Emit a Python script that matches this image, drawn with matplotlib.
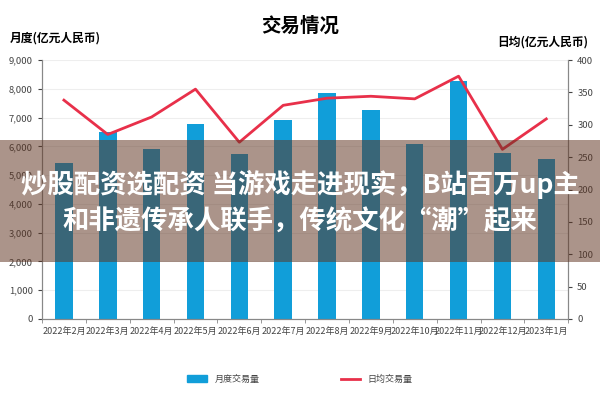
import matplotlib.pyplot as plt
from matplotlib.patches import Rectangle
from matplotlib.lines import Line2D
import numpy as np

plt.rcParams['font.family'] = ['Noto Sans CJK SC', 'DejaVu Sans']

# data
months = ['2022年2月', '2022年3月', '2022年4月', '2022年5月', '2022年6月', '2022年7月',
          '2022年8月', '2022年9月', '2022年10月', '2022年11月', '2022年12月', '2023年1月']
monthly = [5420, 6490, 5900, 6760, 5730, 6910, 7850, 7260, 6080, 8260, 5760, 5560]
daily = [338, 285, 312, 355, 273, 330, 341, 344, 340, 375, 262, 309]

bar_color = '#119ed9'
line_color = '#e8304a'
tick_color = '#444444'

fig = plt.figure(figsize=(6, 4), dpi=100)
ax = fig.add_axes([0.07, 0.2025, 0.877, 0.6475])
ax2 = ax.twinx()

x = np.arange(len(months))
ax.bar(x, monthly, width=0.4, color=bar_color, zorder=2)
ax2.plot(x, daily, color=line_color, lw=2, zorder=3)

ax.set_xlim(-0.5, len(months) - 0.5)
ax.set_ylim(0, 9000)
ax2.set_ylim(0, 400)
ax.set_yticks(range(0, 9001, 1000))
ax.set_yticklabels([f'{v:,}' for v in range(0, 9001, 1000)])
ax2.set_yticks(range(0, 401, 50))
ax.grid(axis='y', color='#eeeeee', lw=0.8, zorder=0)

ax.set_xticks(x)
ax.set_xticklabels(months)
ax.set_xticks(np.arange(-0.5, len(months)), minor=True)
ax.tick_params(axis='x', which='major', length=0, labelsize=6.5, colors=tick_color, pad=6)
ax.tick_params(axis='x', which='minor', length=3, color='#888888')
ax.tick_params(axis='y', labelsize=6.8, colors=tick_color, length=3)
ax2.tick_params(axis='y', labelsize=6.8, colors=tick_color, length=3)
for a in (ax, ax2):
    a.spines['top'].set_visible(False)
    for s in ['left', 'right', 'bottom']:
        a.spines[s].set_color('#888888')

fig.text(0.5, 0.935, '交易情况', ha='center', va='center', fontsize=14, fontweight='bold')
fig.text(0.017, 0.905, '月度(亿元人民币)', ha='left', va='center', fontsize=8.5, fontweight='bold')
fig.text(0.98, 0.895, '日均(亿元人民币)', ha='right', va='center', fontsize=8.5, fontweight='bold')

handles = [Rectangle((0, 0), 1, 1, color=bar_color), Line2D([0], [0], color=line_color, lw=2)]
fig.legend(handles, ['月度交易量', '日均交易量'], loc='center', bbox_to_anchor=(0.5, 0.052),
           ncol=2, frameon=False, fontsize=6.5, columnspacing=9, handlelength=2.2,
           labelcolor=tick_color)

# overlay banner
fig.patches.append(Rectangle((0, 0.345), 1, 0.305, transform=fig.transFigure,
                             facecolor='#5e3320', edgecolor='none', alpha=0.52, zorder=10))
fig.text(0.5, 0.538, '炒股配资选配资 当游戏走进现实，B站百万up主', ha='center', va='center',
         fontsize=19, fontweight='bold', color='white', zorder=11)
fig.text(0.5, 0.445, '和非遗传承人联手，传统文化“潮”起来', ha='center', va='center',
         fontsize=19, fontweight='bold', color='white', zorder=11)

fig.savefig('out.png')
